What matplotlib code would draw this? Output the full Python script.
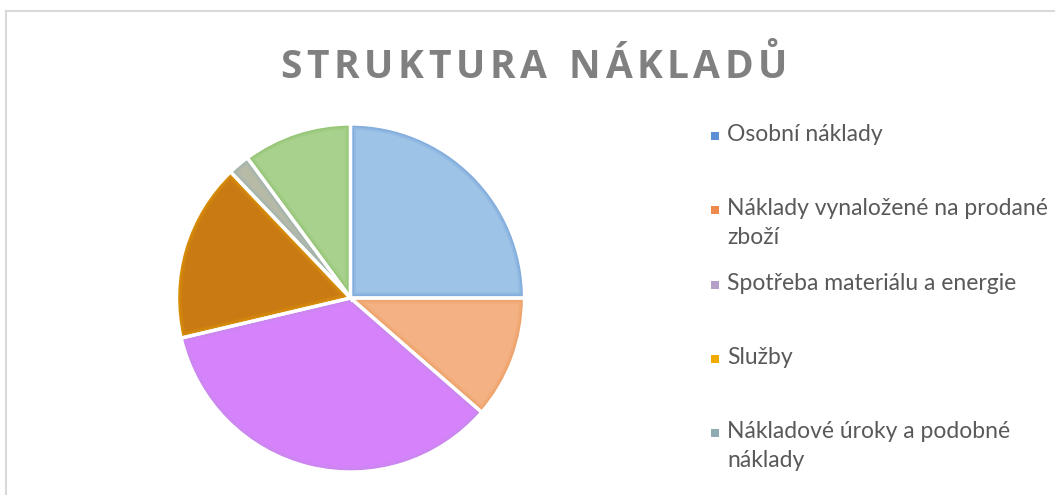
import matplotlib
matplotlib.use("Agg")
import matplotlib.pyplot as plt
from matplotlib.patches import Rectangle, Wedge
from matplotlib.lines import Line2D

# ---- data ----
categories = [
    "Osobní náklady",
    "Náklady vynaložené na prodané\nzboží",
    "Spotřeba materiálu a energie",
    "Služby",
    "Nákladové úroky a podobné\nnáklady",
    "Ostatní náklady",
]
values = [25.0, 11.4, 34.9, 16.6, 2.0, 10.1]
fill_colors = ["#9DC3E6", "#F4B183", "#D683FB", "#C97A12", "#B7BBA6", "#A9D18E"]
rim_colors = ["#6F9FD8", "#EC9A5C", "#C48AE6", "#E29A05", "#9AB0B4", "#8CC06A"]
legend_colors = ["#5B8FD5", "#EF8A4F", "#B49FCA", "#F0AA00", "#8FAAB0", "#8CC06A"]
title = "STRUKTURA NÁKLADŮ"

W, H = 1055, 495
fig = plt.figure(figsize=(W / 100, H / 100), dpi=100)
fig.patch.set_facecolor("white")
ax = fig.add_axes([0, 0, 1, 1])

cx, cy, r = 350.5, H - 298, 174
wedges, _ = ax.pie(values, center=(cx, cy), radius=r, startangle=90,
                   counterclock=False, colors=fill_colors,
                   wedgeprops=dict(linewidth=0))
# soft inner rim clipped to each wedge
for w, rc in zip(wedges, rim_colors):
    for lw, a in [(8, 0.25), (5, 0.4), (2.5, 0.75)]:
        rim = Wedge(w.center, w.r, w.theta1, w.theta2, facecolor="none",
                    edgecolor=rc, linewidth=lw, alpha=a)
        ax.add_patch(rim)
        rim.set_clip_path(w)
# white separators
ax.pie(values, center=(cx, cy), radius=r, startangle=90,
       counterclock=False, colors=["none"] * len(values),
       wedgeprops=dict(linewidth=2.4, edgecolor="white"))
ax.set_xlim(0, W)
ax.set_ylim(0, H)
ax.set_aspect("equal")
ax.axis("off")

# frame (partly outside the canvas)
fig.add_artist(Line2D([6 / W, 1.0], [1 - 11 / H, 1 - 11 / H], color="#D9D9D9",
                      lw=1.5, transform=fig.transFigure))
fig.add_artist(Line2D([6 / W, 6 / W], [1 - 11 / H, 0], color="#D9D9D9",
                      lw=1.5, transform=fig.transFigure))

# title with letter spacing
renderer = fig.canvas.get_renderer()
tkw = dict(fontsize=28, fontweight="bold", family="Open Sans", color="#808080")
spacing = 4.6
widths = []
for ch in title:
    t = fig.text(0, 0, ch if ch != " " else "n", **tkw)
    widths.append(t.get_window_extent(renderer).width * (0.5 if ch == " " else 1))
    t.remove()
total = sum(widths) + spacing * (len(title) - 1)
x = 534 - total / 2
ty = H - 67
for ch, w in zip(title, widths):
    if ch != " ":
        fig.text(x / W, ty / H, ch, ha="left", va="center", **tkw)
    x += w + spacing

# legend (entries below the canvas edge are cut off in the original)
lkw = dict(fontsize=16.5, family="Lato", color="#595959")
y0, step = 136, 74.3
for i, (lab, col) in enumerate(zip(categories, legend_colors)):
    y = y0 + step * i
    if y > H - 10:
        break
    fig.add_artist(Rectangle((711 / W, 1 - (y + 4) / H), 8 / W, 8 / H,
                             transform=fig.transFigure, facecolor=col,
                             edgecolor="none"))
    fig.text(727 / W, 1 - (y - 12) / H, lab, ha="left", va="top",
             linespacing=1.45, **lkw)

fig.savefig("out.png", dpi=100, facecolor="white")
